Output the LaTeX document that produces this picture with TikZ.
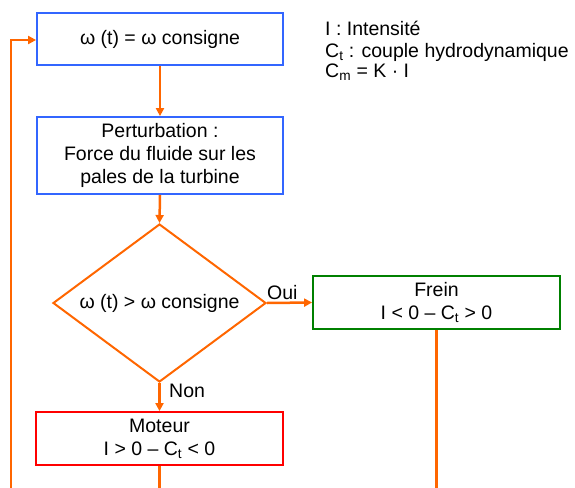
\documentclass[tikz,border=0pt]{standalone}
\usepackage{fontspec}
\setmainfont{Liberation Sans}
\usetikzlibrary{arrows.meta,shapes.geometric}
\definecolor{flowor}{RGB}{255,102,0}
\definecolor{boxblue}{RGB}{51,102,255}
\definecolor{boxgreen}{RGB}{0,128,0}
\definecolor{boxred}{RGB}{255,0,0}
\tikzset{
  txt/.style={font=\fontsize{19.5}{23}\selectfont, text=black},
  procbox/.style={txt, draw, line width=1.8pt, align=center, inner sep=0pt},
  decision/.style={txt, draw=flowor, line width=2pt, diamond, aspect=1.35, inner sep=0pt, minimum width=213pt, minimum height=158pt},
  flow/.style={draw=flowor, line width=2.5pt, -{Triangle[length=8pt,width=8pt]}},
  flowline/.style={draw=flowor, line width=2.5pt},
  lbl/.style={txt, inner sep=0pt, anchor=base west}
}
\begin{document}
\begin{tikzpicture}[x=1pt,y=-1pt]
\useasboundingbox (0,0) rectangle (575,487);
\node[procbox, draw=boxblue, minimum width=246pt, minimum height=52pt] (b1) at (160,39) {ω (t) = ω consigne};
\node[procbox, draw=boxblue, minimum width=246pt, minimum height=77pt] (b2) at (160,155.5) {Perturbation :\\Force du fluide sur les\\pales de la turbine};
\node[decision] (d) at (159.5,303) {ω (t) > ω consigne};
\node[procbox, draw=boxgreen, minimum width=247pt, minimum height=53pt] (fr) at (436.5,302.5) {Frein\\I < 0 – C\textsubscript{t} > 0};
\node[procbox, draw=boxred, minimum width=247pt, minimum height=53pt] (mo) at (159.5,438.5) {Moteur\\I > 0 – C\textsubscript{t} < 0};
\node[lbl] (l1) at (325,35.7) {I : Intensité};
\node[lbl] (l2) at (325,57.5) {C\textsubscript{t} : couple hydrodynamique};
\node[lbl] (l3) at (325,77.5) {C\textsubscript{m} = K · I};
\node[lbl] (oui) at (267,299) {Oui};
\node[lbl] (non) at (169,397) {Non};
\coordinate (bl) at (11,491.5);
\draw[flow] (b1.south) -- (b2.north);
\draw[flow] (b2.south) -- (d.north);
\draw[flow] (d.east) -- (fr.west);
\draw[flow] (d.south) -- (mo.north);
\draw[flowline] (mo.south) -- (mo.south |- bl);
\draw[flowline] (fr.south) -- (fr.south |- bl);
\draw[flowline] (bl) -- (fr.south |- bl);
\draw[flow] (bl) |- ([yshift=-1pt]b1.west);
\end{tikzpicture}
\end{document}
